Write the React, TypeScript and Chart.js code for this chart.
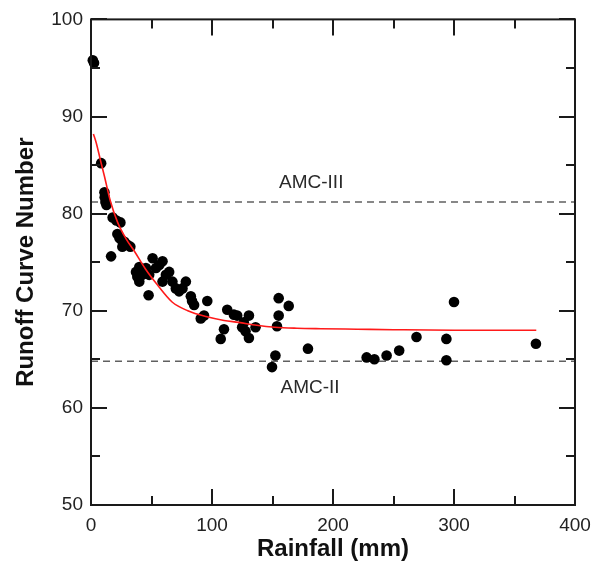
import React, { useEffect, useRef } from "react";
import { Chart, registerables } from "chart.js";

Chart.register(...registerables);

// Observed storm events
const rainfall = [
  1.5, 2.5, 8.4, 11.1, 11.3, 11.9, 12.8, 17.9, 21, 24.3,
  21.8, 23.5, 25.1, 27.6, 30, 32.5, 25.9, 16.6, 37.2, 39.9,
  38.3, 50.9, 56.4, 45.4, 42.4, 39.9, 48.1, 61.9, 67.3, 78.4,
  75.6, 70.1, 82.5, 83.5, 47.6, 96.1, 90.7, 93.4, 53.7, 59.1,
  64.6, 72.8, 59.1, 85.2, 112.6, 118.1, 120.8, 130.5, 109.9, 107.2,
  124.9, 127.7, 136, 130.5, 126.3, 155.1, 163.4, 155.1, 153.7, 152.4,
  149.6, 179.3, 227.8, 234.2, 244.3, 254.7, 269, 293.7, 293.7, 300,
  367.7,
];
const curveNumber = [
  95.8, 95.5, 85.2, 82.2, 81.7, 81.2, 80.9, 79.6, 79.3, 79.1,
  77.9, 77.5, 77.3, 77.1, 76.8, 76.6, 76.6, 75.6, 74.0, 73.0,
  73.5, 75.4, 74.7, 74.4, 73.7, 74.5, 73.7, 73.7, 73.0, 73.0,
  72.3, 72.3, 71.5, 71.0, 71.6, 71.0, 69.2, 69.5, 74.4, 73.0,
  74.0, 72.0, 75.1, 70.6, 70.1, 69.6, 69.5, 69.5, 68.1, 67.1,
  68.3, 67.9, 68.3, 67.2, 68.8, 71.3, 70.5, 69.5, 68.4, 65.4,
  64.2, 66.1, 65.2, 65.0, 65.4, 65.9, 67.3, 67.1, 64.9, 70.9,
  66.6,
];

// Fitted curve
const fitRainfall = [2, 4.3, 8, 11, 16, 22, 29, 36, 45, 54, 67, 80, 95, 110, 122, 137, 152, 170, 190, 220, 250, 300, 368];
const fitCN = [88.2, 87.3, 85.4, 83.9, 81.3, 79.1, 77.4, 76.1, 74.3, 72.8, 70.9, 70.0, 69.4, 69.0, 68.8, 68.5, 68.3, 68.2, 68.15, 68.1, 68.05, 68.0, 68.0];

// Antecedent moisture condition reference levels
const amcNames = ["AMC-III", "AMC-II"];
const amcLevels = [81.2, 64.8];
const amcLabelX = [182, 181];
const amcLabelY = [83.2, 62.1];

// Axis ticks
const xTickValues = [0, 100, 200, 300, 400];
const yTickValues = [50, 60, 70, 80, 90, 100];

const FONT = "'Liberation Sans', Arial, Helvetica, sans-serif";

const framePlugin = {
  id: "frameTicks",
  afterDatasetsDraw(chart: any) {
    const { ctx, chartArea } = chart;
    const { left, right, top, bottom } = chartArea;
    const xs = chart.scales.x;
    const ys = chart.scales.y;
    ctx.save();
    // AMC labels
    ctx.fillStyle = "#2a2a2a";
    ctx.font = `19px ${FONT}`;
    ctx.textAlign = "center";
    ctx.textBaseline = "middle";
    amcNames.forEach((n, i) => {
      ctx.fillText(n, xs.getPixelForValue(amcLabelX[i]), ys.getPixelForValue(amcLabelY[i]));
    });
    // frame
    ctx.strokeStyle = "#1a1a1a";
    ctx.lineWidth = 2;
    ctx.strokeRect(left, top, right - left, bottom - top);
    // ticks
    ctx.beginPath();
    const xMin = xTickValues[0], xMax = xTickValues[xTickValues.length - 1];
    for (let v = xMin; v <= xMax; v += 50) {
      const len = v % 100 === 0 ? 16 : 9;
      const px = Math.round(xs.getPixelForValue(v));
      ctx.moveTo(px, bottom);
      ctx.lineTo(px, bottom - len);
      ctx.moveTo(px, top);
      ctx.lineTo(px, top + len);
    }
    const yMin = yTickValues[0], yMax = yTickValues[yTickValues.length - 1];
    for (let v = yMin; v <= yMax; v += 5) {
      const len = v % 10 === 0 ? 16 : 9;
      const py = Math.round(ys.getPixelForValue(v));
      ctx.moveTo(left, py);
      ctx.lineTo(left + len, py);
      ctx.moveTo(right, py);
      ctx.lineTo(right - len, py);
    }
    ctx.stroke();
    ctx.restore();
  },
};

export default function App() {
  const ref = useRef<HTMLCanvasElement>(null);
  useEffect(() => {
    if (!ref.current) return;
    const scatter = rainfall.map((x, i) => ({ x, y: curveNumber[i] }));
    const fit = fitRainfall.map((x, i) => ({ x, y: fitCN[i] }));
    const amcSets = amcLevels.map((lv, i) => ({
      type: "line" as const,
      label: amcNames[i],
      data: [
        { x: xTickValues[0], y: lv },
        { x: xTickValues[xTickValues.length - 1], y: lv },
      ],
      borderColor: "#606060",
      borderWidth: 1.5,
      borderDash: [7, 5],
      pointRadius: 0,
      order: 3,
    }));
    const chart = new Chart(ref.current, {
      type: "scatter",
      data: {
        datasets: [
          ...amcSets,
          {
            type: "scatter" as const,
            label: "Observed",
            data: scatter,
            backgroundColor: "#000000",
            borderColor: "#000000",
            pointRadius: 5.3,
            pointBorderWidth: 0,
            clip: false as any,
            order: 2,
          },
          {
            type: "line" as const,
            label: "Fit",
            data: fit,
            borderColor: "#ff1a1a",
            borderWidth: 1.6,
            pointRadius: 0,
            tension: 0.3,
            cubicInterpolationMode: "monotone",
            order: 1,
          },
        ] as any,
      },
      options: {
        animation: false,
        responsive: false,
        devicePixelRatio: 1,
        layout: { padding: { left: 0, top: 15, right: 28, bottom: 0 } },
        plugins: { legend: { display: false }, tooltip: { enabled: false } },
        scales: {
          x: {
            type: "linear",
            min: 0,
            max: 400,
            afterFit: (s: any) => {
              s.height = 59;
            },
            afterBuildTicks: (s: any) => {
              s.ticks = xTickValues.map((v) => ({ value: v }));
            },
            ticks: { font: { size: 19, family: FONT }, color: "#222", padding: 9, maxRotation: 0 },
            grid: { display: false, drawTicks: false },
            border: { display: false },
            title: {
              display: true,
              text: "Rainfall (mm)",
              font: { size: 24, weight: "bold", family: FONT, lineHeight: 1.2 },
              color: "#111",
              padding: { top: 0, bottom: 0 },
            },
          },
          y: {
            type: "linear",
            min: 50,
            max: 100,
            afterFit: (s: any) => {
              s.width = 91;
            },
            afterBuildTicks: (s: any) => {
              s.ticks = yTickValues.map((v) => ({ value: v }));
            },
            ticks: { font: { size: 19, family: FONT }, color: "#222", padding: 8 },
            grid: { display: false, drawTicks: false },
            border: { display: false },
            title: {
              display: true,
              text: "Runoff Curve Number",
              font: { size: 24, weight: "bold", family: FONT, lineHeight: 1.2 },
              color: "#111",
              padding: { top: 12, bottom: 0 },
            },
          },
        },
      } as any,
      plugins: [framePlugin],
    });
    return () => chart.destroy();
  }, []);
  return (
    <div style={{ position: "fixed", left: 0, top: 0, width: 603, height: 564, background: "#fff" }}>
      <canvas ref={ref} width={603} height={564} style={{ width: 603, height: 564 }} />
    </div>
  );
}
